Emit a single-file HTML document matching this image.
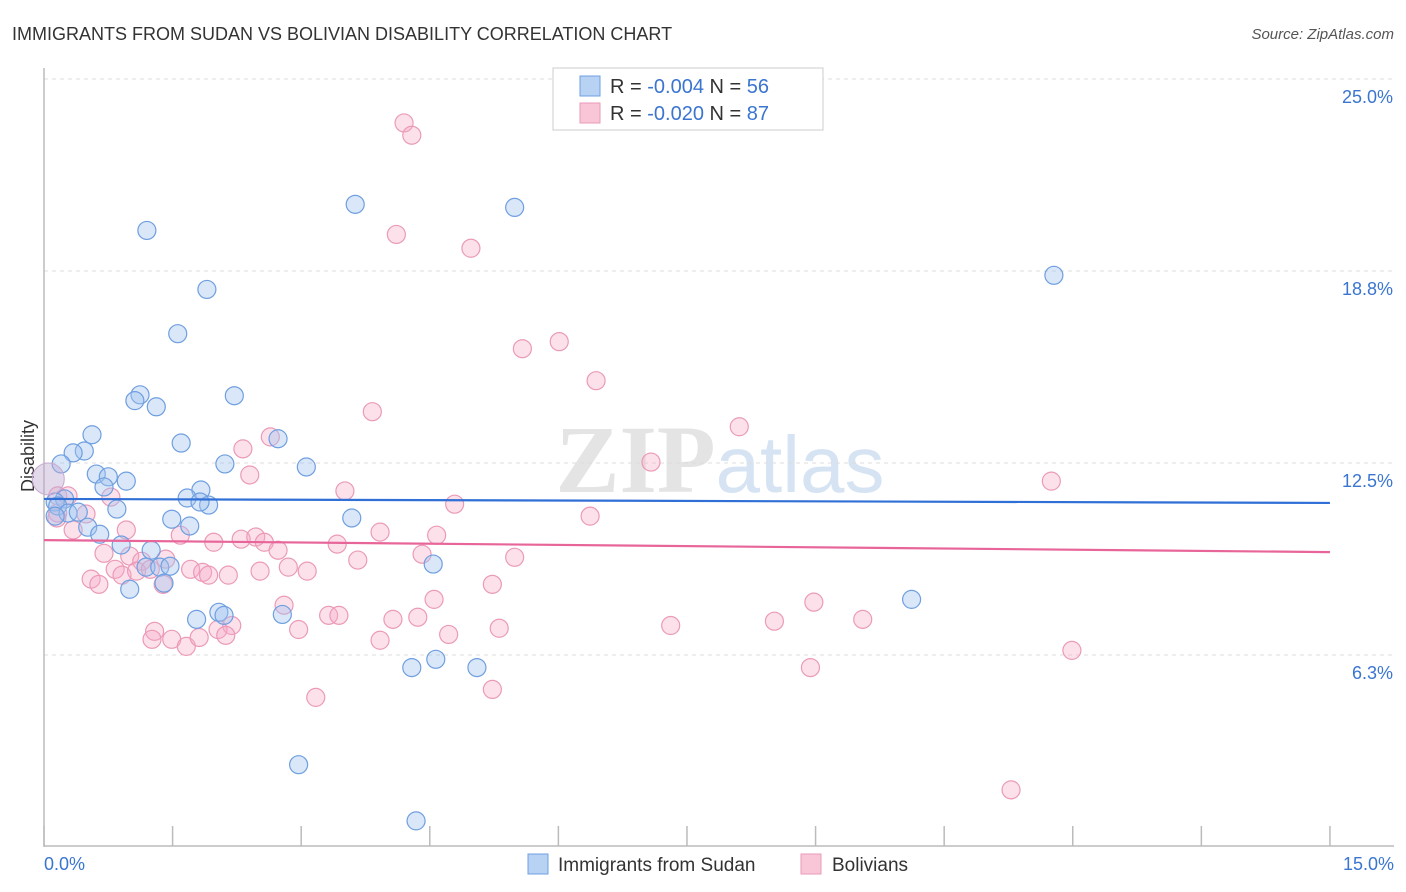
<!DOCTYPE html>
<html><head><meta charset="utf-8"><style>
body{margin:0;background:#fff;font-family:"Liberation Sans",sans-serif;}
svg{display:block}
</style></head><body>
<svg id="chart" width="1406" height="892" xmlns="http://www.w3.org/2000/svg">
<text x="12" y="40" font-size="18" fill="#333">IMMIGRANTS FROM SUDAN VS BOLIVIAN DISABILITY CORRELATION CHART</text>
<text x="1394" y="39" font-size="15" fill="#555" font-style="italic" text-anchor="end">Source: ZipAtlas.com</text>
<text x="720" y="492" font-size="96" text-anchor="middle" fill="#e4e4e4" font-family="Liberation Serif,serif" font-weight="bold">ZIP<tspan fill="#d6e3f3" font-family="Liberation Sans,sans-serif" font-weight="normal" font-size="80">atlas</tspan></text>
<text transform="translate(34,456) rotate(-90)" font-size="18" fill="#333" text-anchor="middle">Disability</text>
<g id="grid"></g><g id="axes"></g><g id="pts"></g><g id="trend"></g>
<g>
<rect x="553" y="68" width="270" height="62" fill="#fff" stroke="#ccc"/>
<rect x="580" y="76" width="20" height="20" fill="#b8d2f3" stroke="#6f9fe0"/>
<text x="610" y="93" font-size="20" fill="#333">R = <tspan fill="#3a75d0">-0.004</tspan>   N = <tspan fill="#3a75d0">56</tspan></text>
<rect x="580" y="103" width="20" height="20" fill="#f8c6d7" stroke="#eb9ab8"/>
<text x="610" y="120" font-size="20" fill="#333">R = <tspan fill="#3a75d0">-0.020</tspan>   N = <tspan fill="#3a75d0">87</tspan></text>
</g>
<g>
<rect x="528" y="854" width="20" height="20" fill="#b8d2f3" stroke="#6f9fe0"/>
<text x="558" y="871" font-size="19" fill="#333">Immigrants from Sudan</text>
<rect x="801" y="854" width="20" height="20" fill="#f8c6d7" stroke="#eb9ab8"/>
<text x="832" y="871" font-size="19" fill="#333">Bolivians</text>
</g>
</svg>
<script>
const blueX=[1.20,3.63,5.49,11.78,1.90,1.56,1.12,1.06,1.31,2.22,0.56,0.47,0.34,0.20,1.60,2.11,3.06,0.61,0.75,0.96,0.70,1.83,1.67,1.92,1.82,0.24,0.13,0.16,0.28,0.40,0.85,0.13,1.49,1.70,3.59,0.51,0.65,0.90,1.25,1.19,1.35,1.47,4.54,1.00,1.40,10.12,1.78,2.04,2.10,2.78,4.29,4.57,5.05,2.97,4.34,2.73];
const blueY=[20.07,20.92,20.82,18.61,18.15,16.71,14.72,14.53,14.33,14.69,13.42,12.89,12.83,12.47,13.15,12.47,12.37,12.14,12.05,11.91,11.72,11.62,11.36,11.13,11.23,11.33,11.23,11.10,10.87,10.90,11.00,10.77,10.67,10.45,10.71,10.41,10.18,9.83,9.66,9.11,9.11,9.14,9.21,8.39,8.59,8.06,7.41,7.64,7.54,7.57,5.84,6.11,5.84,2.68,0.85,13.29];
const pinkX=[4.20,4.29,4.11,4.98,6.01,5.58,6.44,3.83,2.64,2.32,7.08,8.11,11.75,2.40,0.16,0.28,0.78,3.51,4.79,6.37,0.16,0.49,0.15,0.34,0.96,1.59,2.30,1.98,2.47,2.57,2.73,3.42,3.92,4.58,0.70,1.00,1.14,1.42,3.66,4.41,5.49,0.83,0.91,1.08,1.24,1.71,1.85,1.92,2.15,2.52,2.85,3.07,0.55,0.64,1.39,5.23,4.55,2.80,3.32,3.44,4.07,4.36,8.98,9.55,7.31,8.52,1.29,2.19,2.03,2.97,5.31,4.72,1.26,1.49,1.66,1.81,2.12,3.92,8.94,11.99,3.17,5.23,11.28];
const pinkY=[23.57,23.17,19.94,19.49,16.45,16.22,15.18,14.17,13.35,12.96,12.53,13.68,11.91,12.11,11.43,11.43,11.39,11.59,11.16,10.77,10.87,10.84,10.71,10.32,10.32,10.15,10.02,9.92,10.09,9.92,9.66,9.86,10.25,10.15,9.56,9.47,9.30,9.37,9.34,9.53,9.43,9.04,8.85,8.98,9.04,9.04,8.94,8.85,8.85,8.98,9.11,8.98,8.72,8.55,8.55,8.55,8.06,7.87,7.54,7.54,7.41,7.48,7.97,7.41,7.21,7.35,7.02,7.21,7.08,7.08,7.12,6.92,6.76,6.76,6.53,6.82,6.89,6.73,5.84,6.40,4.87,5.13,1.86];
const blueTrend=[11.33,11.20];
const pinkTrend=[9.99,9.60];
const yTicks=[25,18.75,12.5,6.25];
const yTickLabels=["25.0%","18.8%","12.5%","6.3%"];
const xTicks=[0,1.5,3,4.5,6,7.5,9,10.5,12,13.5,15];
const NS="http://www.w3.org/2000/svg";
const xS=v=>44+v*85.73;
const yS=v=>847-v*30.72;
function mk(tag,attrs,parent){const e=document.createElementNS(NS,tag);for(const k in attrs)e.setAttribute(k,attrs[k]);parent.appendChild(e);return e;}
const grid=document.getElementById('grid'),axes=document.getElementById('axes'),pts=document.getElementById('pts'),trend=document.getElementById('trend');
yTicks.forEach((t,i)=>{
  const l=mk('line',{x1:44,x2:1394,y1:yS(t),y2:yS(t),stroke:'#ddd','stroke-dasharray':'4,4'},grid);
  
  
  const tx=mk('text',{x:1393,y:yS(t)+24,'font-size':18,fill:'#3a75d0','text-anchor':'end'},axes);
  tx.textContent=yTickLabels[i];
  
  
});
const ya=mk('line',{x1:44,x2:44,y1:68,y2:847,stroke:'#bbb','stroke-width':1.5},axes);


const xa=mk('line',{x1:44,x2:1394,y1:846,y2:846,stroke:'#bbb','stroke-width':1.5},axes);


xTicks.forEach(t=>{
  const l=mk('line',{x1:xS(t),x2:xS(t),y1:826,y2:846,stroke:'#bbb','stroke-width':1.5},axes);
  
  
});
const xl0=mk('text',{x:44,y:870,'font-size':18,fill:'#3a75d0'},axes);xl0.textContent='0.0%';


const xl1=mk('text',{x:1394,y:870,'font-size':18,fill:'#3a75d0','text-anchor':'end'},axes);xl1.textContent='15.0%';


pinkX.forEach((x,i)=>{
  const c=mk('circle',{cx:xS(x),cy:yS(pinkY[i]),r:9,fill:'rgba(245,170,198,0.35)',stroke:'#eb9ab8','stroke-width':1.2},pts);
  
  
});
blueX.forEach((x,i)=>{
  const c=mk('circle',{cx:xS(x),cy:yS(blueY[i]),r:9,fill:'rgba(160,196,240,0.4)',stroke:'#6f9fe0','stroke-width':1.2},pts);
  
  
});
const big=mk('circle',{cx:xS(0.05),cy:yS(11.98),r:16,fill:'rgba(190,170,210,0.45)',stroke:'#c8a8d0','stroke-width':1},pts);


const bt=mk('line',{x1:xS(0),x2:xS(15),y1:yS(blueTrend[0]),y2:yS(blueTrend[1]),stroke:'#2f6fd6','stroke-width':2.2},trend);


const pt=mk('line',{x1:xS(0),x2:xS(15),y1:yS(pinkTrend[0]),y2:yS(pinkTrend[1]),stroke:'#e8659a','stroke-width':2.2},trend);


</script>
</body></html>
